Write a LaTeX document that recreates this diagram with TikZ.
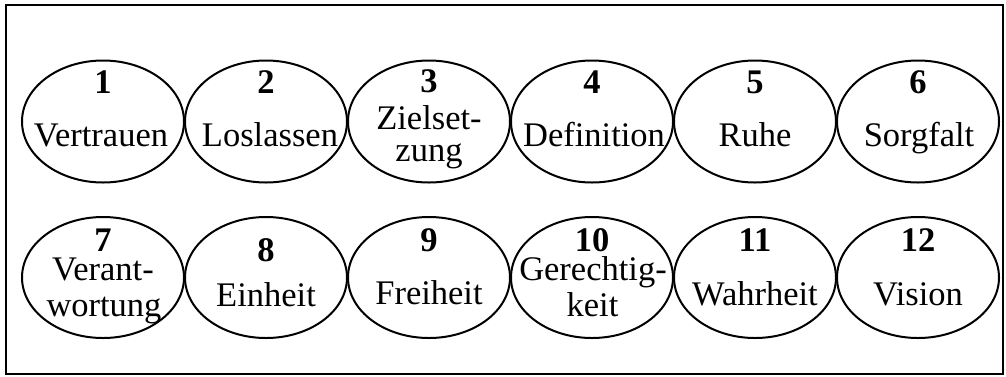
\documentclass[tikz,border=0pt]{standalone}
\usepackage{fontspec}
\setmainfont{Liberation Serif}
\usetikzlibrary{shapes.geometric}
\begin{document}
\begin{tikzpicture}[x=1pt,y=-1pt,
  oval/.style={draw, ellipse, minimum width=162pt, minimum height=122pt, inner sep=0pt, line width=2pt},
  num/.style={anchor=base, inner sep=0pt, font=\bfseries\fontsize{34.5}{34.5}\selectfont},
  word/.style={anchor=base, inner sep=0pt, font=\fontsize{34.5}{34.5}\selectfont}]
\useasboundingbox (0,0) rectangle (1006,376);
\node[draw, line width=2pt, minimum width=997pt, minimum height=369pt, inner sep=0pt] (frame) at (504.5,189.5) {};
% row 1
\node[oval] (e1) at (103,121.5) {};
\node[oval] (e2) at (266,121.5) {};
\node[oval] (e3) at (429,121.5) {};
\node[oval] (e4) at (592,121.5) {};
\node[oval] (e5) at (755,121.5) {};
\node[oval] (e6) at (918,121.5) {};
\node[num] (n1) at (103,93.3) {1};
\node[num] (n2) at (266,93.3) {2};
\node[num] (n3) at (429,92.5) {3};
\node[num] (n4) at (592,93) {4};
\node[num] (n5) at (755,93.3) {5};
\node[num] (n6) at (918,93.3) {6};
\node[word] (w1) at (101,146) {Vertrauen};
\node[word] (w2) at (270,146) {Loslassen};
\node[word] (w3a) at (429,129.3) {Zielset-};
\node[word] (w3b) at (429,161.5) {zung};
\node[word] (w4) at (594,146) {Definition};
\node[word] (w5) at (755,146.5) {Ruhe};
\node[word] (w6) at (919,146.5) {Sorgfalt};
% row 2
\node[oval, minimum height=121pt] (e7) at (103,277.5) {};
\node[oval, minimum height=121pt] (e8) at (266,277.5) {};
\node[oval, minimum height=121pt] (e9) at (429,277.5) {};
\node[oval, minimum height=121pt] (e10) at (592,277.5) {};
\node[oval, minimum height=121pt] (e11) at (755,277.5) {};
\node[oval, minimum height=121pt] (e12) at (918,277.5) {};
\node[num] (n7) at (103,251.7) {7};
\node[num] (n8) at (266,261.7) {8};
\node[num] (n9) at (429,251.7) {9};
\node[num] (n10) at (592,251.7) {10};
\node[num] (n11) at (755,251.7) {11};
\node[num] (n12) at (918,251.7) {12};
\node[word] (w7a) at (103,280) {Verant-};
\node[word] (w7b) at (104,316.7) {wortung};
\node[word] (w8) at (266,306) {Einheit};
\node[word] (w9) at (429,304.3) {Freiheit};
\node[word] (w10a) at (593,280) {Gerechtig-};
\node[word] (w10b) at (592.5,316.7) {keit};
\node[word] (w11) at (755,305) {Wahrheit};
\node[word] (w12) at (918,305) {Vision};
\end{tikzpicture}
\end{document}
